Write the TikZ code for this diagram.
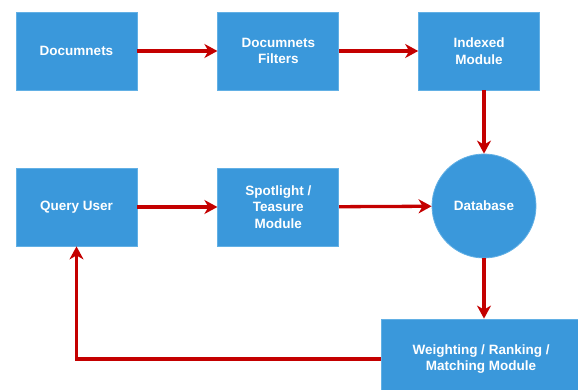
\documentclass[tikz,border=0pt]{standalone}
\usepackage{fontspec}
\setmainfont{Liberation Sans}
\usepackage{xcolor}
\usetikzlibrary{arrows.meta}
\definecolor{boxblue}{RGB}{58,152,219}
\definecolor{boxedge}{RGB}{98,176,229}
\definecolor{linkred}{RGB}{196,0,0}

\begin{document}
\begin{tikzpicture}[x=1pt,y=-1pt,font=\fontsize{13.5}{16.7}\selectfont\bfseries]
    \tikzstyle{box} = [rectangle, draw=boxedge, fill=boxblue, text=white, line width=.8pt, inner sep=0pt, align=center, minimum width=121pt, minimum height=78pt]
    \tikzstyle{dbcircle} = [circle, draw=boxedge, fill=boxblue, text=white, line width=.8pt, inner sep=0pt, minimum size=104pt]
    \tikzstyle{flow} = [-{Stealth[length=13pt,width=14pt,inset=4pt]}, draw=linkred, line width=3.3pt]
    \useasboundingbox (0,0) rectangle (578,390);
    \clip (0,0) rectangle (578,390);
        %%% indexing row %%%
        \node[box] (docs) at (76.5,51) {Documnets};
        \node[box,right=80pt] (filters) at (docs.east) {Documnets\\Filters};
        \node[box,right=79pt] (indexed) at (filters.east) {Indexed\\Module};
        \draw[flow] (docs) -- (filters);
        \draw[flow] (filters) -- (indexed);
        %%% query row %%%
        \node[box] (query) at (76.5,207) {Query User};
        \node[box,right=80pt] (spotlight) at (query.east) {Spotlight /\\Teasure\\Module};
        \node[dbcircle] (db) at (484,206) {Database};
        \draw[flow] (query) -- (spotlight);
        \draw[flow] (spotlight) -- (db);
        %%% ranking %%%
        \node[box,minimum width=200pt,minimum height=80pt] (ranking) at (481,359) {Weighting / Ranking /\\Matching Module};
        %%% vertical links
        \draw[flow] (indexed.south -| db.north) -- (db.north);
        \draw[flow] (db.south) -- (db.south |- ranking.north);
        \draw[flow] (ranking.west) -| (query.south);
    \end{tikzpicture}
\end{document}
